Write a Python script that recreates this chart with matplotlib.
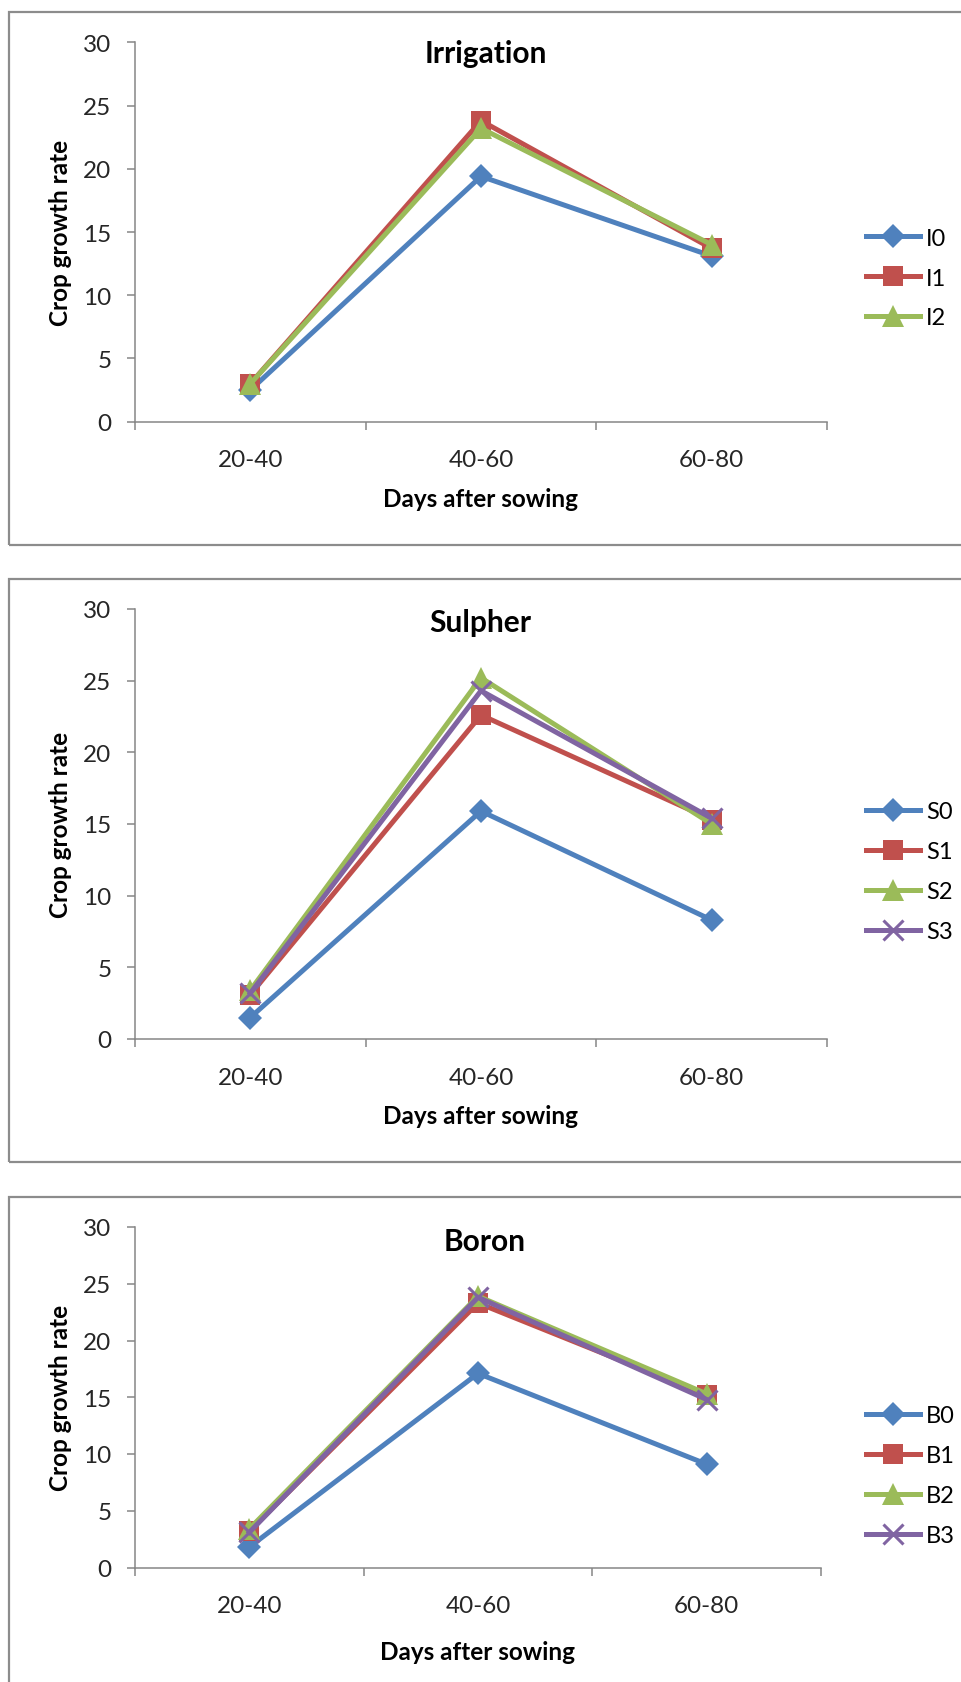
import matplotlib
matplotlib.use("Agg")
import matplotlib.pyplot as plt
from matplotlib.patches import Rectangle

plt.rcParams['font.family'] = ['Lato', 'DejaVu Sans']

# ---------------- data ----------------
categories = ['20-40', '40-60', '60-80']

irr_labels = ['I0', 'I1', 'I2']
I0 = [2.5, 19.4, 13.1]
I1 = [3.0, 23.8, 13.7]
I2 = [3.0, 23.2, 14.0]

sul_labels = ['S0', 'S1', 'S2', 'S3']
S0 = [1.5, 15.9, 8.3]
S1 = [3.1, 22.6, 15.3]
S2 = [3.4, 25.2, 15.0]
S3 = [3.2, 24.3, 15.4]

bor_labels = ['B0', 'B1', 'B2', 'B3']
B0 = [1.8, 17.1, 9.1]
B1 = [3.2, 23.3, 15.2]
B2 = [3.4, 23.9, 15.3]
B3 = [3.1, 23.8, 14.8]

y_ticks = [0, 5, 10, 15, 20, 25, 30]
titles = ['Irrigation', 'Sulpher', 'Boron']
ylabel = 'Crop growth rate'
xlabel = 'Days after sowing'

# ---------------- styles ----------------
colors = ['#4F81BD', '#C0504D', '#9BBB59', '#8064A2']
markers = ['D', 's', '^', 'x']
msizes = [12, 14, 16, 14]
W, H = 962, 1683
AXC = '#868686'

fig = plt.figure(figsize=(W / 100, H / 100), dpi=100)

def fx(px):
    return px / W

def fy(py):
    return 1 - py / H

# frames (px: left, top, bottom)
frames = [(9, 13, 546), (9, 580, 1163), (9, 1198, 1700)]
for (l, t, b) in frames:
    fig.patches.append(Rectangle((fx(l), fy(b)), fx(1000 - l), fy(t) - fy(b),
                                 transform=fig.transFigure, fill=False,
                                 edgecolor='#8C8C8C', linewidth=1.6, zorder=0))

# axes (px: left, right, top, bottom)
axes_px = [(135, 827, 43.3, 422.7), (135, 827, 610, 1040), (135, 821, 1228, 1568.5)]
panels = [
    (irr_labels, [I0, I1, I2]),
    (sul_labels, [S0, S1, S2, S3]),
    (bor_labels, [B0, B1, B2, B3]),
]
title_y = [54, 623, 1242]
title_x = [486, 480, 485]
xlabel_y = [500, 1117, 1653]
legend_y = [279, 872.5, 1476.5]

x = list(range(len(categories)))
for i, ((l, r, t, b), (labels, series)) in enumerate(zip(axes_px, panels)):
    ax = fig.add_axes([fx(l), fy(b), fx(r - l), fy(t) - fy(b)])
    handles = []
    for j, (lab, vals) in enumerate(zip(labels, series)):
        mew = 2.2 if markers[j] == 'x' else 0
        h, = ax.plot(x, vals, color=colors[j], linewidth=3.6, marker=markers[j],
                     markersize=msizes[j], markerfacecolor=colors[j],
                     markeredgecolor=colors[j], markeredgewidth=mew,
                     label=lab, clip_on=False, solid_joinstyle='miter')
        handles.append(h)
    ax.set_xlim(-0.5, len(categories) - 0.5)
    ax.set_ylim(0, 30)
    ax.set_yticks(y_ticks)
    ax.set_xticks(x)
    ax.set_xticklabels(categories)
    ax.set_xticks([k - 0.5 for k in range(len(categories) + 1)], minor=True)
    ax.tick_params(axis='x', which='major', length=0, pad=20, labelsize=17.5, colors='#262626')
    ax.tick_params(axis='x', which='minor', length=6, width=1.1, color=AXC, direction='out')
    ax.tick_params(axis='y', which='major', length=6, width=1.1, color=AXC, pad=11,
                   labelsize=17.5, labelcolor='#262626')
    for s in ['top', 'right']:
        ax.spines[s].set_visible(False)
    for s in ['left', 'bottom']:
        ax.spines[s].set_color(AXC)
        ax.spines[s].set_linewidth(1.1)
    ax.patch.set_alpha(0)

    fig.text(fx(title_x[i]), fy(title_y[i]), titles[i], ha='center', va='center',
             fontsize=21.5, fontweight='bold', color='black')
    fig.text(fx((l + r) / 2), fy(xlabel_y[i]), xlabel, ha='center', va='center',
             fontsize=17.5, fontweight='bold', color='black')
    fig.text(fx(61), fy((t + b) / 2), ylabel, ha='center', va='center', rotation=90,
             fontsize=17.5, fontweight='bold', color='black')
    fig.legend(handles=handles, loc='center left',
               bbox_to_anchor=(fx(866), fy(legend_y[i])), frameon=False,
               fontsize=17, handlelength=2.3, handletextpad=0.25,
               labelspacing=0.8, borderpad=0, borderaxespad=0)

fig.savefig('out.png', dpi=100)
